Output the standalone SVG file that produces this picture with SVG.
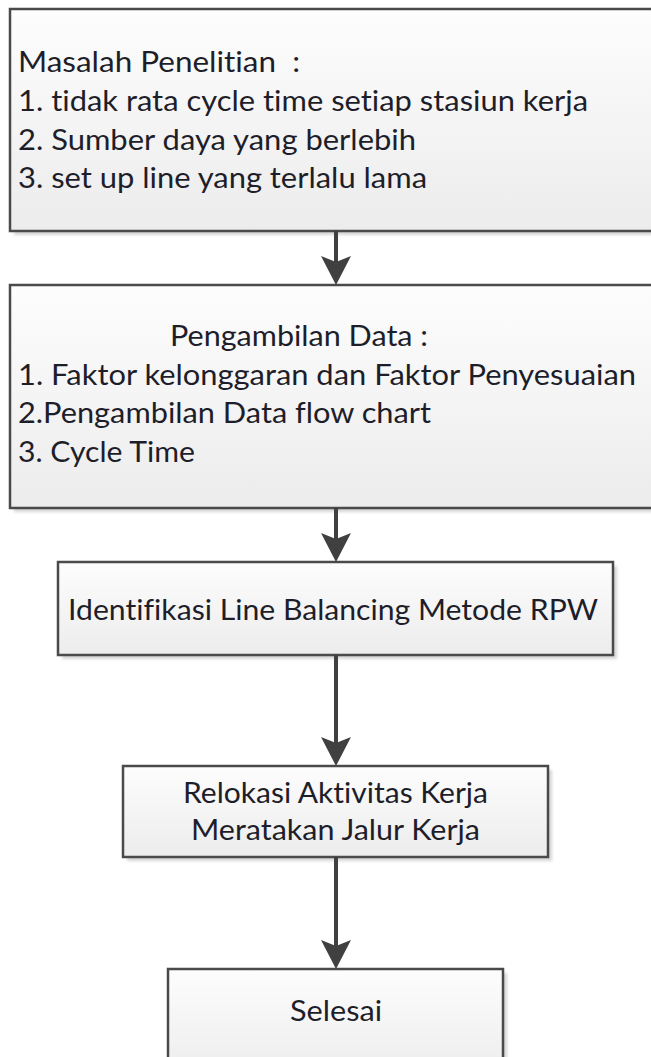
<svg xmlns="http://www.w3.org/2000/svg" width="651" height="1057" viewBox="0 0 651 1057">
<style>
.box{fill:url(#g);stroke:#4a4a4a;stroke-width:2.5}
.sh{fill:#d6d6d6;filter:url(#b)}
.t{font-family:Lato,"Open Sans","Liberation Sans",sans-serif;font-size:28px;fill:#1e1e2a;font-variant-ligatures:none}
.c{text-anchor:middle}
.ln{stroke:#404040;stroke-width:4;fill:none}
.hd{fill:#404040}
</style>
<defs>
<linearGradient id="g" x1="0" y1="0" x2="0" y2="1">
<stop offset="0" stop-color="#fdfdfd"/>
<stop offset="1" stop-color="#ececec"/>
</linearGradient>
<filter id="b" x="-5%" y="-5%" width="110%" height="110%"><feGaussianBlur stdDeviation="1.5"/></filter>
</defs>
<g id="n1">
<rect class="sh" x="14" y="13" width="652" height="222"/>
<rect class="box" x="10" y="9" width="652" height="222"/>
<text class="t" x="18" y="72" textLength="282" lengthAdjust="spacingAndGlyphs" xml:space="preserve">Masalah Penelitian  :</text>
<text class="t" x="18" y="111" textLength="570" lengthAdjust="spacingAndGlyphs">1. tidak rata cycle time setiap stasiun kerja</text>
<text class="t" x="18" y="150" textLength="398" lengthAdjust="spacingAndGlyphs">2. Sumber daya yang berlebih</text>
<text class="t" x="18" y="188" textLength="409" lengthAdjust="spacingAndGlyphs">3. set up line yang terlalu lama</text>
</g>
<g id="n2">
<rect class="sh" x="14" y="289" width="652" height="223"/>
<rect class="box" x="10" y="285" width="652" height="223"/>
<text class="t" x="170" y="346" textLength="258" lengthAdjust="spacingAndGlyphs">Pengambilan Data :</text>
<text class="t" x="18" y="385" textLength="618" lengthAdjust="spacingAndGlyphs">1. Faktor kelonggaran dan Faktor Penyesuaian</text>
<text class="t" x="18" y="423" textLength="413" lengthAdjust="spacingAndGlyphs">2.Pengambilan Data flow chart</text>
<text class="t" x="18" y="462" textLength="177" lengthAdjust="spacingAndGlyphs">3. Cycle Time</text>
</g>
<g id="n3">
<rect class="sh" x="62" y="566" width="555" height="93"/>
<rect class="box" x="58" y="562" width="555" height="93"/>
<text class="t" x="68" y="620" textLength="530" lengthAdjust="spacingAndGlyphs">Identifikasi Line Balancing Metode RPW</text>
</g>
<g id="n4">
<rect class="sh" x="127" y="770" width="425" height="91"/>
<rect class="box" x="123" y="766" width="425" height="91"/>
<text class="t" x="183" y="803" textLength="305" lengthAdjust="spacingAndGlyphs">Relokasi Aktivitas Kerja</text>
<text class="t" x="191" y="840" textLength="289" lengthAdjust="spacingAndGlyphs">Meratakan Jalur Kerja</text>
</g>
<g id="n5">
<rect class="sh" x="172" y="973" width="335" height="110"/>
<rect class="box" x="168" y="969" width="335" height="110"/>
<text class="t" x="290" y="1021" textLength="92" lengthAdjust="spacingAndGlyphs">Selesai</text>
</g>
<g id="connectors">
<line class="ln" x1="336" y1="231" x2="336" y2="262"/>
<path class="hd" d="M336,285 L321,256 L336,262 L351,256 Z"/>
<line class="ln" x1="336" y1="508" x2="336" y2="539"/>
<path class="hd" d="M336,562 L321,533 L336,539 L351,533 Z"/>
<line class="ln" x1="336" y1="655" x2="336" y2="743"/>
<path class="hd" d="M336,766 L321,737 L336,743 L351,737 Z"/>
<line class="ln" x1="336" y1="857" x2="336" y2="946"/>
<path class="hd" d="M336,969 L321,940 L336,946 L351,940 Z"/>
</g>
</svg>
